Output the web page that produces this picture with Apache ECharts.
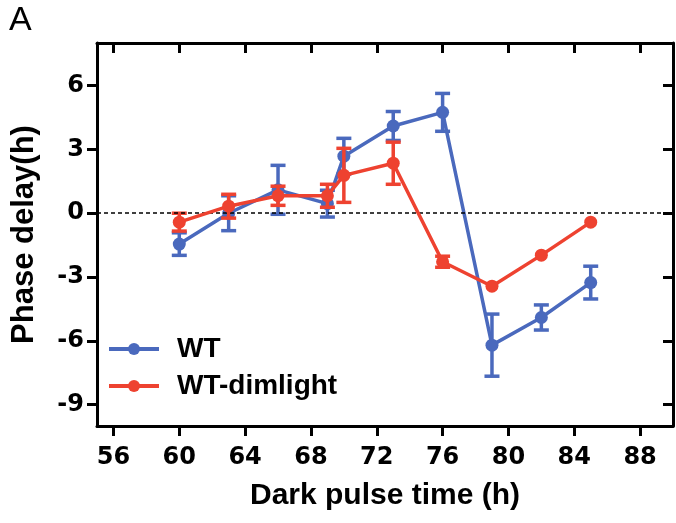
<!DOCTYPE html>
<html>
<head>
<meta charset="utf-8">
<script src="https://cdn.jsdelivr.net/npm/echarts@6/dist/echarts.min.js"></script>
<style>html,body{margin:0;padding:0;background:#fff;}#c{width:676px;height:523px;}</style>
</head>
<body>
<div id="c"></div>
<script>
const xValues = [60, 63, 66, 69, 70, 73, 76, 79, 82, 85];
const wtMean = [-1.45, 0.0, 1.1, 0.45, 2.68, 4.1, 4.74, -6.2, -4.9, -3.26];
const wtErr = [0.53, 0.82, 1.15, 0.63, 0.84, 0.68, 0.89, 1.46, 0.59, 0.77];
const dimMean = [-0.42, 0.33, 0.82, 0.82, 1.78, 2.35, -2.28, -3.43, -1.97, -0.42];
const dimErr = [0.42, 0.56, 0.45, 0.54, 1.27, 0.99, 0.26, 0.05, 0.05, 0.05];
const xTicks = [56, 60, 64, 68, 72, 76, 80, 84, 88];
const yTicks = [-9, -6, -3, 0, 3, 6];
const seriesNames = ['WT', 'WT-dimlight'];
const colors = ['#4a69bd', '#ee4230'];

const font = 'Liberation Sans, Arial, Helvetica, sans-serif';
const tickFont = 'DejaVu Sans, Liberation Sans, sans-serif';

function pts(mean) { return xValues.map((x, i) => [x, mean[i]]); }
function errs(mean, err) { return xValues.map((x, i) => [x, mean[i] - err[i], mean[i] + err[i]]); }

function errRender(color) {
  return function (params, api) {
    const x = api.value(0);
    const lo = api.coord([x, api.value(1)]);
    const hi = api.coord([x, api.value(2)]);
    if (Math.abs(lo[1] - hi[1]) < 8) return null;
    const cap = 7.5;
    const style = { stroke: color, lineWidth: 3.5, fill: null };
    return {
      type: 'group',
      children: [
        { type: 'line', shape: { x1: lo[0], y1: lo[1], x2: hi[0], y2: hi[1] }, style },
        { type: 'line', shape: { x1: lo[0] - cap, y1: lo[1], x2: lo[0] + cap, y2: lo[1] }, style },
        { type: 'line', shape: { x1: hi[0] - cap, y1: hi[1], x2: hi[0] + cap, y2: hi[1] }, style }
      ]
    };
  };
}

const axisLine = { show: true, onZero: false, lineStyle: { color: '#000', width: 3 } };

const option = {
  animation: false,
  backgroundColor: '#fff',
  grid: { left: 97, right: 3, top: 43, bottom: 97 },
  graphic: [{
    type: 'text', left: 9, top: 4,
    style: { text: 'A', font: 'normal 34px ' + font, fill: '#000' }
  }],
  legend: {
    data: seriesNames,
    orient: 'vertical',
    left: 107, top: 335,
    padding: 0,
    itemWidth: 50, itemHeight: 15, itemGap: 9,
    lineStyle: { width: 4 },
    textStyle: { fontFamily: font, fontWeight: 'bold', fontSize: 28, color: '#000', lineHeight: 28, padding: [0, 0, 0, 13] }
  },
  xAxis: [{
    type: 'value', min: 55, max: 90, position: 'bottom',
    axisLine: axisLine,
    axisTick: { show: true, length: 10, lineStyle: { color: '#000', width: 3 }, customValues: xTicks },
    axisLabel: { show: true, margin: 20, customValues: xTicks, fontFamily: tickFont, fontWeight: 'bold', fontSize: 24, color: '#000' },
    splitLine: { show: false },
    name: 'Dark pulse time (h)', nameLocation: 'middle', nameGap: 55,
    nameTextStyle: { fontFamily: font, fontWeight: 'bold', fontSize: 30, color: '#000' }
  }, {
    type: 'value', min: 55, max: 90, position: 'top',
    axisLine: axisLine,
    axisTick: { show: true, inside: true, length: 10, lineStyle: { color: '#000', width: 3 }, customValues: xTicks },
    axisLabel: { show: false },
    splitLine: { show: false }
  }],
  yAxis: [{
    type: 'value', min: -10, max: 8, position: 'left',
    axisLine: axisLine,
    axisTick: { show: true, length: 10, lineStyle: { color: '#000', width: 3 }, customValues: yTicks },
    axisLabel: { show: true, margin: 13, customValues: yTicks, fontFamily: tickFont, fontWeight: 'bold', fontSize: 24, color: '#000' },
    splitLine: { show: false },
    name: 'Phase delay(h)', nameLocation: 'middle', nameGap: 57,
    nameTextStyle: { fontFamily: font, fontWeight: 'bold', fontSize: 31, color: '#000' }
  }, {
    type: 'value', min: -10, max: 8, position: 'right',
    axisLine: axisLine,
    axisTick: { show: true, inside: true, length: 10, lineStyle: { color: '#000', width: 3 }, customValues: yTicks },
    axisLabel: { show: false },
    splitLine: { show: false }
  }],
  series: [
    {
      type: 'custom', name: 'WT-err', renderItem: errRender(colors[0]), data: errs(wtMean, wtErr), z: 2, silent: true,
      encode: { x: 0, y: [1, 2] }
    },
    {
      type: 'line', name: seriesNames[0], data: pts(wtMean), z: 3,
      symbol: 'circle', symbolSize: 13, showSymbol: true,
      itemStyle: { color: colors[0] },
      lineStyle: { color: colors[0], width: 3.5 },
      markLine: {
        silent: true, symbol: 'none', label: { show: false },
        lineStyle: { color: '#000', width: 1.5, type: [4, 3] },
        data: [{ yAxis: 0 }]
      }
    },
    {
      type: 'custom', name: 'dim-err', renderItem: errRender(colors[1]), data: errs(dimMean, dimErr), z: 4, silent: true,
      encode: { x: 0, y: [1, 2] }
    },
    {
      type: 'line', name: seriesNames[1], data: pts(dimMean), z: 5,
      symbol: 'circle', symbolSize: 13, showSymbol: true,
      itemStyle: { color: colors[1] },
      lineStyle: { color: colors[1], width: 3.5 }
    }
  ]
};

const chart = echarts.init(document.getElementById('c'), null, { renderer: 'canvas' });
chart.setOption(option);
</script>
</body>
</html>
